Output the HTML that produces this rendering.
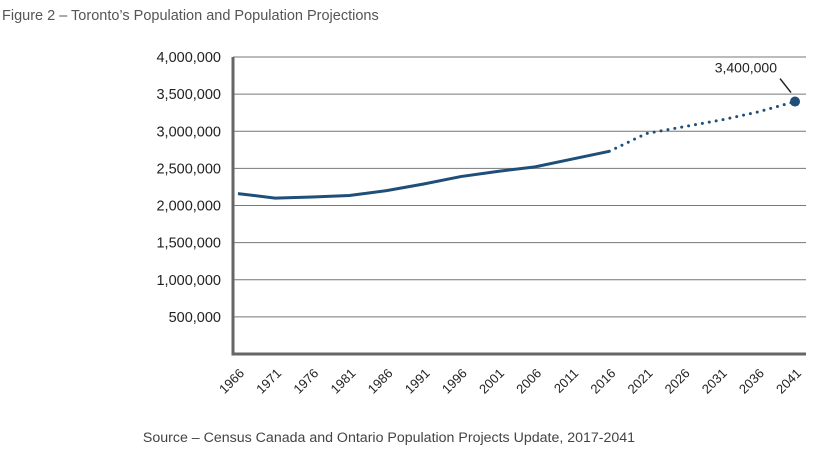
<!DOCTYPE html>
<html><head><meta charset="utf-8"><style>
body{margin:0;background:#fff;width:838px;height:455px;overflow:hidden;font-family:"Liberation Sans",sans-serif;}
</style></head><body>
<svg width="838" height="455" id="chart">
<text x="2" y="20" font-size="14.5" fill="#555">Figure 2 – Toronto’s Population and Population Projections</text>
<text x="389" y="442" font-size="14.2" fill="#444" text-anchor="middle">Source – Census Canada and Ontario Population Projects Update, 2017-2041</text>
<g id="grid"></g><g id="marks"></g>
</svg>
<script>
const years=["1966","1971","1976","1981","1986","1991","1996","2001","2006","2011","2016","2021","2026","2031","2036","2041"];
const actual=[2160000,2100000,2115000,2135000,2200000,2290000,2390000,2460000,2520000,2625000,2730000];
const projected=[2730000,2970000,3060000,3150000,3260000,3400000];
const yTicks=[500000,1000000,1500000,2000000,2500000,3000000,3500000,4000000];
const NS="http://www.w3.org/2000/svg";
const x0=233,x1=806,y0=354,yTop=57;
const xs=i=>238+i*(795-238)/15;
const ys=v=>y0-v/4000000*(y0-yTop);
function mk(t,a,p){const e=document.createElementNS(NS,t);for(const k in a)e.setAttribute(k,a[k]);(p||document.getElementById('grid')).appendChild(e);return e;}
const g=document.getElementById('grid'),m=document.getElementById('marks');
yTicks.forEach(v=>{
 const l=mk('line',{x1:x0,x2:x1,y1:ys(v),y2:ys(v),stroke:'#777','stroke-width':1});
 
 
 const t=mk('text',{x:221,y:ys(v)+5,'font-size':14.5,fill:'#222','text-anchor':'end'});
 t.textContent=v.toLocaleString('en-US');
 
 
});
const ax=mk('path',{d:`M${x0} ${yTop} V${y0} H${x1}`,stroke:'#666','stroke-width':3,fill:'none'});


years.forEach((y,i)=>{
 const t=mk('text',{transform:`translate(${xs(i)+7},${374}) rotate(-45)`,'font-size':13,fill:'#222','text-anchor':'end'});
 t.textContent=y;
 
 
});
const a=mk('polyline',{points:actual.map((v,i)=>xs(i)+','+ys(v)).join(' '),fill:'none',stroke:'#1f4e79','stroke-width':3},m);


const off=actual.length-1;
const p=mk('polyline',{points:projected.map((v,i)=>xs(i+off)+','+ys(v)).join(' '),fill:'none',stroke:'#1f4e79','stroke-width':3,'stroke-dasharray':'0 7','stroke-linecap':'round'},m);


const li=years.length-1,lv=projected[projected.length-1];
const d=mk('circle',{cx:xs(li),cy:ys(lv),r:5,fill:'#1f4e79'},m);


const cl=mk('line',{x1:xs(li)-4,y1:ys(lv)-9,x2:xs(li)-15,y2:ys(lv)-23,stroke:'#222','stroke-width':1.5},m);


const ct=mk('text',{x:xs(li)-18,y:ys(lv)-29,'font-size':14,fill:'#222','text-anchor':'end'},m);
ct.textContent=lv.toLocaleString('en-US');


</script>
</body></html>
